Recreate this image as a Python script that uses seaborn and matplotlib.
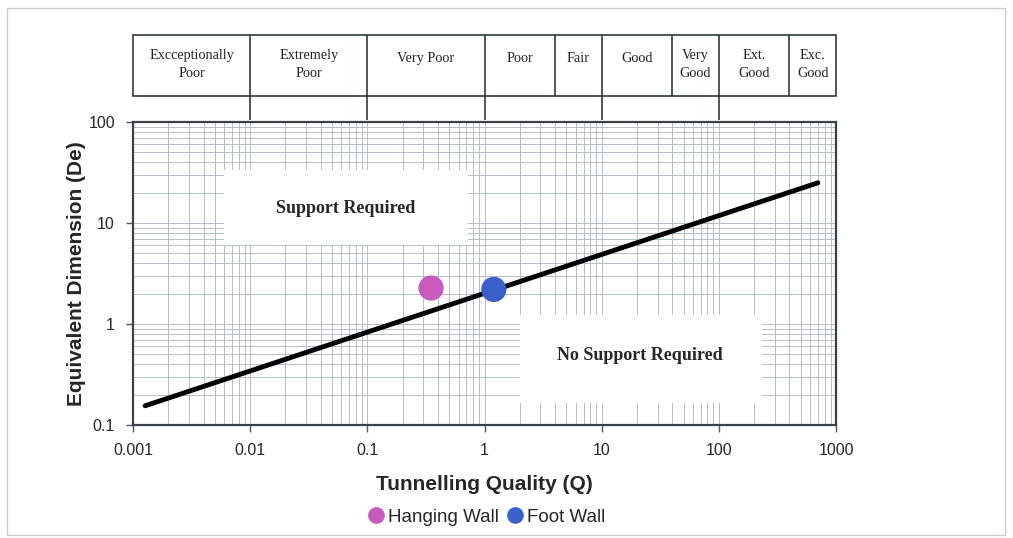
import numpy as np
import pandas as pd
import matplotlib.pyplot as plt
import matplotlib.patches as mpatches
from matplotlib.lines import Line2D
import seaborn as sns

# Q-system design line (De = 2 Q^0.4)
line_q = [0.00127, 700]
line_de = [0.155, 25]

# measured points
walls = ['Hanging Wall', 'Foot Wall']
wall_q = [0.35, 1.2]
wall_de = [2.27, 2.2]
wall_colors = ['#c75bbd', '#3b5fc9']

# rock mass classes along the top
class_edges = [0.001, 0.01, 0.1, 1, 4, 10, 40, 100, 400, 1000]
class_names = ['Excceptionally\nPoor', 'Extremely\nPoor', 'Very Poor', 'Poor', 'Fair',
               'Good', 'Very\nGood', 'Ext.\nGood', 'Exc.\nGood']
class_long_ticks = [0.01, 0.1, 1, 10, 100]

sns.set_style('white')
plt.rcParams['font.family'] = ['Liberation Sans', 'DejaVu Sans']

fig = plt.figure(figsize=(10.13, 5.38), dpi=100)
fig.patches.append(mpatches.Rectangle((7 / 1013, 3 / 538), 998 / 1013, 527 / 538, transform=fig.transFigure,
                                      fill=False, edgecolor='#c8ccd2', linewidth=1))

L, W = 133 / 1013, 703 / 1013
ax = fig.add_axes([L, 113 / 538, W, 303 / 538])

line_df = pd.DataFrame({'Q': line_q, 'De': line_de})
pts_df = pd.DataFrame({'Q': wall_q, 'De': wall_de, 'wall': walls})

ax.set_xscale('log')
ax.set_yscale('log')
ax.set_xlim(0.001, 1000)
ax.set_ylim(0.1, 100)

ax.grid(True, which='both', color='#b3bfca', linewidth=0.7)
ax.set_axisbelow(True)

# white label boxes over the grid
ax.add_patch(mpatches.Rectangle((0.129, 0.594), 0.348, 0.248, transform=ax.transAxes,
                                facecolor='white', edgecolor='none', zorder=1.5))
ax.add_patch(mpatches.Rectangle((0.551, 0.073), 0.344, 0.29, transform=ax.transAxes,
                                facecolor='white', edgecolor='none', zorder=1.5))
ax.text(0.302, 0.716, 'Support Required', transform=ax.transAxes, ha='center', va='center',
        fontsize=13, fontweight='bold', family='Liberation Serif', zorder=2)
ax.text(0.721, 0.231, 'No Support Required', transform=ax.transAxes, ha='center', va='center',
        fontsize=13, fontweight='bold', family='Liberation Serif', zorder=2)

sns.lineplot(data=line_df, x='Q', y='De', color='black', linewidth=3.5, ax=ax, zorder=3)
sns.scatterplot(data=pts_df, x='Q', y='De', hue='wall', palette=wall_colors, s=330,
                edgecolor='none', ax=ax, zorder=4, legend=False)

ax.set_xticks([0.001, 0.01, 0.1, 1, 10, 100, 1000])
ax.set_xticklabels(['0.001', '0.01', '0.1', '1', '10', '100', '1000'])
ax.set_yticks([0.1, 1, 10, 100])
ax.set_yticklabels(['0.1', '1', '10', '100'])
ax.tick_params(which='major', length=5, width=1, color='#555555', labelsize=11.5, pad=8,
               bottom=True, left=True)
ax.tick_params(which='minor', length=0)
for s in ax.spines.values():
    s.set_color('#3a4248')
    s.set_linewidth(1.6)

ax.set_xlabel('Tunnelling Quality (Q)', fontsize=15, fontweight='bold', labelpad=12)
ax.set_ylabel('Equivalent Dimension (De)', fontsize=15, fontweight='bold', labelpad=2)

# classification table on top
tax = fig.add_axes([L, 418 / 538, W, 85 / 538])
tax.set_xscale('log')
tax.set_xlim(0.001, 1000)
tax.set_ylim(0, 1)
tax.axis('off')
box_bottom = 24 / 85
tax.add_patch(mpatches.Rectangle((0, box_bottom), 1, 1 - box_bottom, transform=tax.transAxes,
                                 fill=False, edgecolor='#2f3a40', linewidth=1.2, clip_on=False))
tax.vlines(class_edges[1:-1], box_bottom, 1, color='#2f3a40', linewidth=1.2)
tax.vlines(class_long_ticks, 0, box_bottom, color='#2f3a40', linewidth=1.2)
for lo, hi, name in zip(class_edges[:-1], class_edges[1:], class_names):
    ty = 0.65 if '\n' in name else 0.72
    tax.text(np.sqrt(lo * hi), ty, name, ha='center', va='center', fontsize=10.3,
             family='Liberation Serif', color='#222222', linespacing=1.5)

handles = [Line2D([], [], marker='o', linestyle='none', markersize=11, color=c) for c in wall_colors]
fig.legend(handles, walls, loc='center', bbox_to_anchor=(485 / 1013, 1 - 517 / 538), ncol=2,
           frameon=False, fontsize=13.5, handletextpad=0.0, columnspacing=0.3, handlelength=1.2)

fig.savefig('out.png', dpi=100, facecolor='white')
